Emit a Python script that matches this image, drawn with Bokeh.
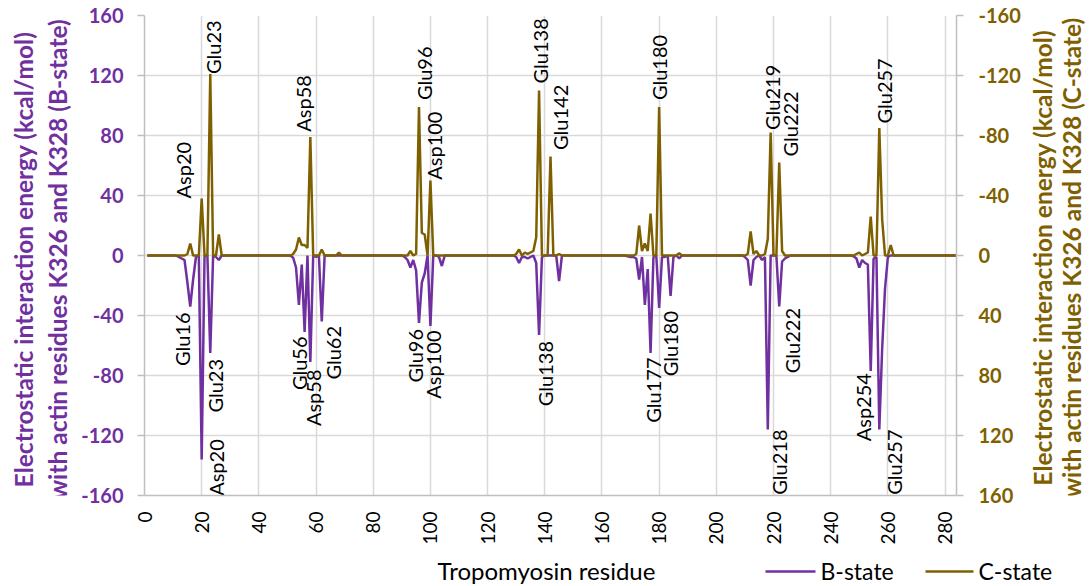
import math
from bokeh.plotting import figure
from bokeh.layouts import row, column
from bokeh.models import Range1d, LinearAxis, FixedTicker, PrintfTickFormatter
from bokeh.core.properties import value
from bokeh.embed import file_html
from bokeh.resources import INLINE

FONT = "Lato"
PURPLE = "#7030A0"
BROWN = "#7F6000"

# ---------------- data ----------------
x_ticks = [0, 20, 40, 60, 80, 100, 120, 140, 160, 180, 200, 220, 240, 260, 280]
y_ticks = [-160, -120, -80, -40, 0, 40, 80, 120, 160]

# B-state electrostatic energy (kcal/mol) per tropomyosin residue
b_res = [1, 11, 12, 13, 14, 15, 16, 17, 18, 19, 20, 21, 22, 23, 24, 25, 26, 27,
         51, 52, 53, 54, 55, 56, 57, 58, 59, 60, 61, 62, 63,
         90, 91, 92, 93, 94, 95, 96, 97, 98, 99, 100, 101, 102, 103, 104, 105,
         129, 130, 131, 132, 133, 134, 135, 136, 137, 138, 139, 140, 144, 145, 146,
         168, 170, 171, 172, 173, 174, 175, 176, 177, 178, 179, 180, 181, 182, 183, 184, 185, 186, 187, 188,
         208, 209, 210, 211, 212, 213, 214, 215, 216, 217, 218, 219, 220, 221, 222, 223, 224, 225, 226,
         247, 248, 249, 250, 251, 252, 253, 254, 255, 256, 257, 258, 259, 260, 261, 284]
b_val = [0, 0, -1, -2, -3, -18, -34, -16, -1, 0, -136, 0, 0, -65, 0, -1, -3, 0,
         0, -1.5, -8, -33, -6, -51, 0, -71, 0, -1, 0, -44, 0,
         0, -1, -3, -8, -3, -10, -45, -18, -12, 0, -47, 0, 0, -1, -7, 0,
         0, -1, -5, -1, -1, -2, -1, 0, -5, -53, -1, 0, 0, -17, 0,
         0, -1, -1, -2, -16, -1, -33, -9, -65, -1, 0, -35, -1, -1, 0, -27, -1, 0, -2, 0,
         0, 0, -1, -3, -20, -3, -1, 0, -3, -1, -116, 0, 0, 0, -34, -4, -2, -1, 0,
         0, -0.5, -2, -8, -3, -5, -6, -77, -2, -1, -116, -62, -22, -1, 0, 0]

# C-state electrostatic energy (kcal/mol) per tropomyosin residue
c_res = [1, 14, 15, 16, 17, 18, 19, 20, 21, 22, 23, 24, 25, 26, 27,
         50, 51, 52, 53, 54, 55, 56, 57, 58, 59, 60, 61, 62, 63, 67, 68, 69,
         92, 93, 94, 95, 96, 97, 98, 99, 100, 101,
         129, 130, 131, 132, 133, 134, 135, 136, 137, 138, 139, 140, 141, 142, 143, 144, 145, 146,
         171, 172, 173, 174, 175, 176, 177, 178, 179, 180, 181, 186, 187, 188,
         209, 210, 211, 212, 213, 214, 215, 216, 217, 218, 219, 220, 221, 222, 223, 224,
         248, 249, 250, 251, 252, 253, 254, 255, 256, 257, 258, 259, 260, 261, 262, 284]
c_val = [0, 0, -1, -8, 0, 0, 0, -38, 0, 0, -121, 0, 0, -14, 0,
         0, 0, -1, -4, -12, -7, -7, -5, -79, 0, 0, 0, -4, 0, 0, -2, 0,
         0, -3, 0, -1, -99, -15, -14, 0, -50, 0,
         0, -1, -4, 0, -2, -1, -2, -3, -12, -110, 0, 0, 0, -66, 0, 0, -1, 0,
         0, -1, -20, -3, -8, -3, -28, 0, 0, -99, 0, 0, -1.5, 0,
         0, 0, -1, -16, -1, -3, 0, 0, -1, -11, -82, 0, 0, -62, -3, 0,
         0, -1, -2, 0, -1, -2, -26, 0, 0, -85, -24, 0, 0, -7, 0, 0]

# residue annotations
c_labels = ["Asp20", "Glu23", "Asp58", "Glu96", "Asp100", "Glu138", "Glu142",
            "Glu180", "Glu219", "Glu222", "Glu257"]
b_labels = ["Glu16", "Asp20", "Glu23", "Glu56", "Asp58", "Glu62", "Glu96", "Asp100",
            "Glu138", "Glu177", "Glu180", "Glu218", "Glu222", "Asp254", "Glu257"]

x_title = "Tropomyosin residue"
left_title = ["Electrostatic interaction energy (kcal/mol)",
              "with actin residues K326 and K328 (B-state)"]
right_title = ["Electrostatic interaction energy (kcal/mol)",
               "with actin residues K326 and K328 (C-state)"]
series_names = ["B-state", "C-state"]

# label placement offsets from the labelled point (residues; kcal/mol on screen, + = up)
c_dx = [-6.5, 1.1, -2.6, 1.6, 1.4, 0.4, 3.4, -0.2, 0.4, 3.6, 1.5]
c_dy = [0, 0, 3.5, 4.6, 0.5, 4.7, 4.4, 4.6, 1.7, 4.0, 3.0]
b_dx = [-2.9, 5.1, 1.7, -2.1, 0.9, 4.1, -1.3, 0.8, 2.1, 1.0, 3.9, 3.8, 4.4, -2.8, 5.0]
b_dy = [-4, 13.5, -4, -3, -5, -3, -4, -3, -4, -3, -2, 0, -1, -1.4, 0]

GRID = "#D9D9D9"
AXIS = "#BFBFBF"
TOTAL_W, TOTAL_H = 1092, 586
LEFT_W, RIGHT_W = 76, 68
MAIN_W, MAIN_H = TOTAL_W - LEFT_W - RIGHT_W, 547
BOT_H = TOTAL_H - MAIN_H

# ---------------- main figure ----------------
p = figure(width=MAIN_W, height=MAIN_H, x_range=Range1d(0, 284), y_range=Range1d(-160, 160),
           output_backend="svg", toolbar_location=None,
           min_border_left=68, min_border_right=68, min_border_top=15, min_border_bottom=50)
p.outline_line_color = None
p.background_fill_color = "white"
p.border_fill_color = "white"
p.extra_y_ranges = {"c": Range1d(160, -160)}

p.xgrid.ticker = FixedTicker(ticks=x_ticks)
p.ygrid.ticker = FixedTicker(ticks=y_ticks)
p.grid.grid_line_color = GRID
p.grid.grid_line_width = 1.5

xa = p.xaxis[0]
xa.ticker = FixedTicker(ticks=x_ticks)
xa.formatter = PrintfTickFormatter(format="%d")
xa.major_label_orientation = math.pi / 2
xa.major_tick_out = 0
xa.major_tick_in = 0
xa.minor_tick_out = 0
xa.minor_tick_in = 0
xa.major_label_standoff = 16
xa.major_label_text_font = FONT
xa.major_label_text_font_size = "19px"
xa.major_label_text_color = "black"
xa.axis_line_color = AXIS
xa.axis_line_width = 1.5

def style_y(ax, color):
    ax.ticker = FixedTicker(ticks=y_ticks)
    ax.formatter = PrintfTickFormatter(format="%d")
    ax.major_tick_out = 7
    ax.major_tick_in = 0
    ax.minor_tick_out = 0
    ax.minor_tick_in = 0
    ax.major_tick_line_color = AXIS
    ax.major_tick_line_width = 1.5
    ax.major_label_text_font = FONT
    ax.major_label_text_font_style = "bold"
    ax.major_label_text_font_size = "20px"
    ax.major_label_text_color = color
    ax.axis_line_color = AXIS
    ax.axis_line_width = 1.5

ya = p.yaxis[0]
style_y(ya, PURPLE)
ya.major_label_standoff = 14

ra = LinearAxis(y_range_name="c")
style_y(ra, BROWN)
ra.major_label_standoff = 15
p.add_layout(ra, "right")

rb = p.line(b_res, b_val, line_color=PURPLE, line_width=2.5)
rc = p.line(c_res, c_val, line_color=BROWN, line_width=2.5, y_range_name="c")

c_lookup = dict(zip(c_res, c_val))
b_lookup = dict(zip(b_res, b_val))
cx, cy = [], []
for name, dx, dy in zip(c_labels, c_dx, c_dy):
    r = int(name[3:])
    cx.append(r + dx)
    cy.append(c_lookup[r] - dy)
bx, by = [], []
for name, dx, dy in zip(b_labels, b_dx, b_dy):
    r = int(name[3:])
    bx.append(r + dx)
    by.append(b_lookup[r] + dy)

p.text(x=cx, y=cy, text=c_labels, angle=math.pi / 2, text_align="left",
       text_baseline="middle", text_font=value(FONT), text_font_size="20px",
       text_color="black", y_range_name="c")
p.text(x=bx, y=by, text=b_labels, angle=math.pi / 2, text_align="right",
       text_baseline="middle", text_font=value(FONT), text_font_size="20px",
       text_color="black")

# ---------------- helper panels (titles and legend) ----------------
def blank(w, h):
    f = figure(width=w, height=h, x_range=Range1d(0, w), y_range=Range1d(h, 0),
               output_backend="svg", toolbar_location=None,
               x_axis_type=None, y_axis_type=None,
               min_border_left=0, min_border_right=0, min_border_top=0, min_border_bottom=0)
    f.outline_line_color = None
    f.grid.visible = False
    f.background_fill_color = "white"
    f.border_fill_color = "white"
    return f

TITLE_SIZE = "24.5px"
left_p = blank(LEFT_W, MAIN_H)
left_p.text(x=[23, 57], y=[278, 278], text=left_title, angle=math.pi / 2,
            text_align="center", text_baseline="middle", text_font=value(FONT),
            text_font_size=TITLE_SIZE, text_font_style="bold", text_color=PURPLE)

right_p = blank(RIGHT_W, MAIN_H)
right_p.text(x=[18, 47], y=[276, 276], text=right_title, angle=math.pi / 2,
             text_align="center", text_baseline="middle", text_font=value(FONT),
             text_font_size=TITLE_SIZE, text_font_style="bold", text_color=BROWN)

bottom_p = blank(TOTAL_W, BOT_H)
bottom_p.text(x=[546], y=[23], text=[x_title], text_align="center", text_baseline="middle",
              text_font=value(FONT), text_font_size="24px", text_color="black")
# legend: sample line + label for each series
for (x0, x1, xt), name, col in zip([(765, 815, 820), (925, 973, 978)],
                                    series_names, [PURPLE, BROWN]):
    bottom_p.line([x0, x1], [24, 24], line_color=col, line_width=2.5)
    bottom_p.text(x=[xt], y=[23], text=[name], text_align="left", text_baseline="middle",
                  text_font=value(FONT), text_font_size="23px", text_color="black")

layout = column(row(left_p, p, right_p), bottom_p)

open("out.html", "w").write(file_html(layout, INLINE, title="Electrostatic interaction energy"))
